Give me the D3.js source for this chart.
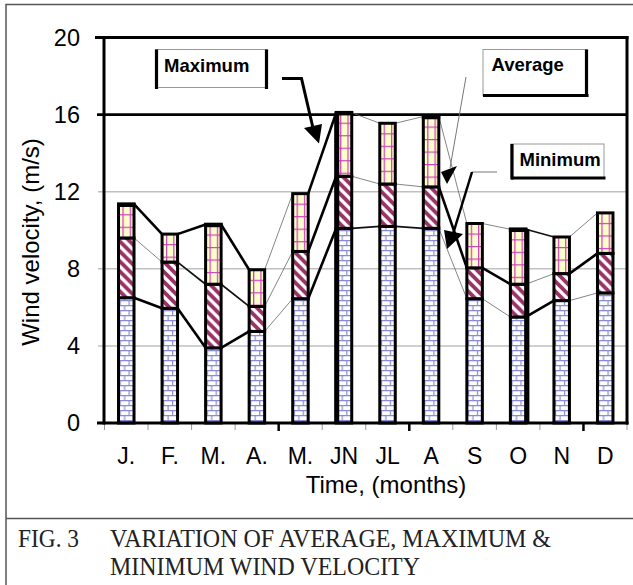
<!DOCTYPE html>
<html>
<head>
<meta charset="utf-8">
<script src="https://cdn.jsdelivr.net/npm/d3@7"></script>
<style>
  html, body { margin: 0; padding: 0; background: #fff; }
  svg { display: block; }
</style>
</head>
<body>
<div id="chart"></div>
<script>
// Monthly wind velocity (m/s)
const months  = ["J.", "F.", "M.", "A.", "M.", "JN", "JL", "A", "S", "O", "N", "D"];
const minimum = [6.5, 5.95, 3.9, 4.75, 6.45, 10.1, 10.2, 10.1, 6.45, 5.5, 6.35, 6.75];
const average = [9.6, 8.35, 7.2, 6.05, 8.9, 12.8, 12.4, 12.25, 8.05, 7.2, 7.75, 8.8];
const maximum = [11.35, 9.8, 10.3, 7.95, 11.9, 16.1, 15.55, 15.9, 10.35, 10.05, 9.65, 10.9];
const yTicks  = [0, 4, 8, 12, 16, 20];

// weight of each joining line between neighbouring columns (3 heavy, 2 medium, 1 hairline)
const maxLinkWeight = [3, 3, 3, 1, 3, 1, 1, 1, 1, 2, 1];
const avgLinkWeight = [1, 2, 2, 1, 3, 1, 1, 3, 3, 1, 3];
const minLinkWeight = [3, 3, 3, 1, 3, 2, 2, 1, 1, 3, 1];

const W = 633, H = 585;
const svg = d3.select("#chart").append("svg")
  .attr("width", W).attr("height", H)
  .style("font-family", "'Liberation Sans', Arial, sans-serif");
svg.append("rect").attr("width", W).attr("height", H).attr("fill", "#fff");

const plot = { left: 104, right: 627, top: 37.5, bottom: 423 };

const x = d3.scaleBand()
  .domain(d3.range(months.length))
  .range([plot.left + 0.5, plot.right])
  .padding(0);
const y = d3.scaleLinear().domain([0, 20]).range([plot.bottom, plot.top]);

const barW = 15.5;
const barX = i => x(i) + x.bandwidth() / 2 - barW / 2;

// ---- fill patterns (one set per column so the texture lines up inside each bar)
const defs = svg.append("defs");
months.forEach((m, i) => {
  const bx = barX(i);
  const brick = defs.append("pattern")
    .attr("id", "brick" + i).attr("patternUnits", "userSpaceOnUse")
    .attr("x", bx + 1).attr("y", 0).attr("width", 9).attr("height", 10);
  brick.append("rect").attr("width", 9).attr("height", 10).attr("fill", "#fff");
  brick.append("path")
    .attr("d", "M0,0.6H9M0,5.6H9M0.6,0V5M5.1,5V10")
    .attr("stroke", "#8a8ad6").attr("stroke-width", 1.2).attr("fill", "none");

  const hatch = defs.append("pattern")
    .attr("id", "hatch" + i).attr("patternUnits", "userSpaceOnUse")
    .attr("x", bx).attr("y", 0).attr("width", 10).attr("height", 10);
  hatch.append("rect").attr("width", 10).attr("height", 10).attr("fill", "#fff");
  hatch.append("path")
    .attr("d", "M-2,-2L12,12M-2,8L2,12M8,-2L12,2")
    .attr("stroke", "#993366").attr("stroke-width", 3.8).attr("fill", "none");

  const grid = defs.append("pattern")
    .attr("id", "grid" + i).attr("patternUnits", "userSpaceOnUse")
    .attr("x", bx + 3.9).attr("y", y(maximum[i]) + 10).attr("width", 7.3).attr("height", 12.5);
  grid.append("rect").attr("width", 7.3).attr("height", 12.5).attr("fill", "#ffffcc");
  grid.append("path")
    .attr("d", "M0.6,0V12.5M0,0.6H7.3")
    .attr("stroke", "#cc44bb").attr("stroke-width", 1.3).attr("fill", "none");
});

// ---- gridlines and frame of the plot area
const g = svg.append("g");
g.selectAll(".grid").data(yTicks.filter(v => v > 0 && v < 16)).enter().append("line")
  .attr("x1", plot.left - 6).attr("x2", plot.right)
  .attr("y1", d => y(d)).attr("y2", d => y(d))
  .attr("stroke", "#c0c0c0").attr("stroke-width", 1.5);

g.append("line").attr("x1", plot.left - 7).attr("x2", plot.right)
  .attr("y1", y(16)).attr("y2", y(16)).attr("stroke", "#000").attr("stroke-width", 2.6);

// x band boundary ticks
const bounds = d3.range(months.length + 1).map(k => plot.left + 0.5 + k * x.step());
const heavyTicks = [4, 7, 11];
g.selectAll(".xt").data(bounds).enter().append("line")
  .attr("x1", d => d).attr("x2", d => d)
  .attr("y1", plot.bottom).attr("y2", (d, k) => heavyTicks.includes(k) ? plot.bottom + 8 : plot.bottom + 7)
  .attr("stroke", (d, k) => heavyTicks.includes(k) ? "#000" : "#999")
  .attr("stroke-width", (d, k) => heavyTicks.includes(k) ? 2.5 : 1);

// ---- joining lines between columns
const linkStyle = {
  3: { w: 2.6, c: "#000" },
  2: { w: 1.7, c: "#111" },
  1: { w: 0.8, c: "#666" }
};
const links = [];
[[maximum, maxLinkWeight], [average, avgLinkWeight], [minimum, minLinkWeight]].forEach(([vals, wts]) => {
  for (let i = 0; i < vals.length - 1; i++) {
    links.push({ i, a: vals[i], b: vals[i + 1], wt: wts[i] });
  }
});
g.selectAll(".link").data(links).enter().append("line")
  .attr("x1", d => barX(d.i) + barW)
  .attr("x2", d => barX(d.i + 1))
  .attr("y1", d => y(d.a)).attr("y2", d => y(d.b))
  .attr("stroke", d => linkStyle[d.wt].c)
  .attr("stroke-width", d => linkStyle[d.wt].w);

// ---- stacked columns
const cols = g.selectAll(".col").data(months).enter().append("g");
cols.append("rect")
  .attr("x", (d, i) => barX(i)).attr("width", barW)
  .attr("y", (d, i) => y(minimum[i])).attr("height", (d, i) => y(0) - y(minimum[i]))
  .attr("fill", (d, i) => `url(#brick${i})`);
cols.append("rect")
  .attr("x", (d, i) => barX(i)).attr("width", barW)
  .attr("y", (d, i) => y(average[i])).attr("height", (d, i) => y(minimum[i]) - y(average[i]))
  .attr("fill", (d, i) => `url(#hatch${i})`);
cols.append("rect")
  .attr("x", (d, i) => barX(i)).attr("width", barW)
  .attr("y", (d, i) => y(maximum[i])).attr("height", (d, i) => y(average[i]) - y(maximum[i]))
  .attr("fill", (d, i) => `url(#grid${i})`);
cols.selectAll("rect").attr("stroke", "#000").attr("stroke-width", 3);

// heavier caps / edges on some columns
const heavyCap = [0, 2, 5, 7, 9];
g.selectAll(".cap").data(heavyCap).enter().append("line")
  .attr("x1", i => barX(i) - 1.5).attr("x2", i => barX(i) + barW + 1.5)
  .attr("y1", i => y(maximum[i]) + 0.5).attr("y2", i => y(maximum[i]) + 0.5)
  .attr("stroke", "#000").attr("stroke-width", 4.5);
g.append("line")
  .attr("x1", barX(5) + 0.5).attr("x2", barX(5) + 0.5)
  .attr("y1", y(maximum[5])).attr("y2", y(0))
  .attr("stroke", "#000").attr("stroke-width", 5);
g.append("line")
  .attr("x1", barX(9) + barW + 1).attr("x2", barX(9) + barW + 1)
  .attr("y1", y(maximum[9])).attr("y2", y(0))
  .attr("stroke", "#000").attr("stroke-width", 5);

// ---- axes
const yAxis = d3.axisLeft(y).tickValues(yTicks).tickSize(0).tickPadding(24);
const yg = svg.append("g").attr("transform", `translate(${plot.left},0)`).call(yAxis);
yg.select(".domain").remove();
yg.selectAll("text").attr("font-size", 23.5).attr("fill", "#000")
  .style("font-family", "'Liberation Sans', Arial, sans-serif");

const xAxis = d3.axisBottom(x).tickSize(0).tickPadding(24.5).tickFormat(i => months[i]);
const xg = svg.append("g").attr("transform", `translate(0,${plot.bottom})`).call(xAxis);
xg.select(".domain").remove();
xg.selectAll("text").attr("font-size", 23).attr("fill", "#000")
  .style("font-family", "'Liberation Sans', Arial, sans-serif");

// frame lines drawn last so they sit on top
const frame = svg.append("g").attr("stroke", "#000").attr("stroke-width", 3).attr("fill", "none");
frame.append("line").attr("x1", plot.left - 9).attr("x2", plot.right + 1.5).attr("y1", y(20)).attr("y2", y(20));
frame.append("line").attr("x1", plot.left - 7).attr("x2", plot.right + 1.5).attr("y1", y(0)).attr("y2", y(0));
frame.append("line").attr("x1", plot.left).attr("x2", plot.left).attr("y1", y(20) - 1.5).attr("y2", y(0) + 1.5);
frame.append("line").attr("x1", plot.right).attr("x2", plot.right).attr("y1", y(20) - 1.5).attr("y2", y(0) + 1.5);

// axis titles
svg.append("text")
  .attr("transform", "translate(38.5,242) rotate(-90)")
  .attr("text-anchor", "middle").attr("font-size", 24)
  .text("Wind velocity, (m/s)");
svg.append("text")
  .attr("x", 386).attr("y", 493)
  .attr("text-anchor", "middle").attr("font-size", 24)
  .text("Time, (months)");

// ---- series labels
const ann = svg.append("g");
function labelBox(bx, by, bw, bh, text, tx, ty, heavySides) {
  ann.append("rect").attr("x", bx).attr("y", by).attr("width", bw).attr("height", bh)
    .attr("fill", "#fff").attr("stroke", "#999").attr("stroke-width", 1);
  const sides = {
    left:   [bx + 1, by, bx + 1, by + bh + 1.5],
    right:  [bx + bw - 0.5, by, bx + bw - 0.5, by + bh + 1.5],
    bottom: [bx, by + bh, bx + bw + 1.5, by + bh]
  };
  heavySides.forEach(s => {
    const [x1, y1, x2, y2] = sides[s];
    ann.append("line").attr("x1", x1).attr("y1", y1).attr("x2", x2).attr("y2", y2)
      .attr("stroke", "#000").attr("stroke-width", 3.2);
  });
  ann.append("text").attr("x", tx).attr("y", ty)
    .attr("font-size", 18.5).attr("font-weight", "bold").text(text);
}
labelBox(155.5, 49.5, 111.5, 38, "Maximum", 164, 71.5, ["left", "right"]);
labelBox(483, 49.5, 104, 46, "Average", 491.5, 71, ["right", "bottom"]);
labelBox(511, 144, 93, 34, "Minimum", 519.5, 166, ["left", "bottom"]);

// leader arrows
ann.append("polyline").attr("points", "282,78.5 301.5,78.5 313,128")
  .attr("fill", "none").attr("stroke", "#000").attr("stroke-width", 3);
ann.append("polygon").attr("points", "304,128 322,124 319,143.5").attr("fill", "#000");

ann.append("line").attr("x1", 466).attr("y1", 77).attr("x2", 450).attr("y2", 168)
  .attr("stroke", "#777").attr("stroke-width", 1);
ann.append("polygon").attr("points", "441,172 457,166 447,184").attr("fill", "#000");

ann.append("line").attr("x1", 497).attr("y1", 172).attr("x2", 472).attr("y2", 172)
  .attr("stroke", "#777").attr("stroke-width", 1);
ann.append("line").attr("x1", 472).attr("y1", 172).attr("x2", 453).attr("y2", 234)
  .attr("stroke", "#000").attr("stroke-width", 2.5);
ann.append("polygon").attr("points", "447,249 444,230 463,234").attr("fill", "#000");

// ---- figure frame and caption
svg.append("path").attr("d", `M${W},4.5H6V${H}M6,518.5H${W}`)
  .attr("fill", "none").attr("stroke", "#555").attr("stroke-width", 1.5);
const cap = svg.append("g")
  .style("font-family", "'Liberation Serif', 'Times New Roman', serif")
  .attr("font-size", 25).attr("fill", "#222");
cap.append("text").attr("x", 18).attr("y", 546.5)
  .attr("textLength", 61).attr("lengthAdjust", "spacingAndGlyphs").text("FIG. 3");
cap.append("text").attr("x", 110).attr("y", 546.5)
  .attr("textLength", 441).attr("lengthAdjust", "spacingAndGlyphs").text("VARIATION OF AVERAGE, MAXIMUM &");
cap.append("text").attr("x", 110).attr("y", 574.5)
  .attr("textLength", 310).attr("lengthAdjust", "spacingAndGlyphs").text("MINIMUM WIND VELOCITY");
</script>
</body>
</html>
